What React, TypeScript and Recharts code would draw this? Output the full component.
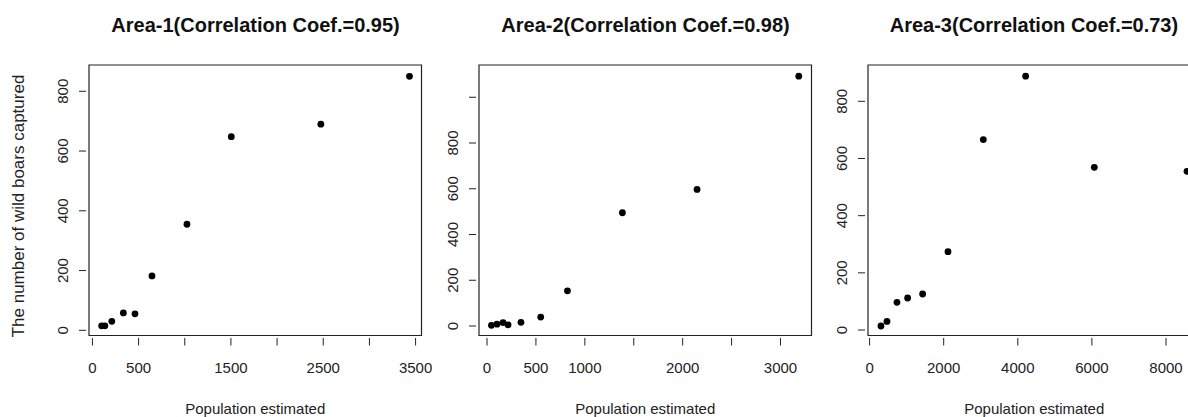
import { ReferenceArea, Scatter, ScatterChart, XAxis, YAxis } from "recharts";

// Area-1
const area1Population = [100, 135, 210, 335, 461, 645, 1024, 1504, 2474, 3434];
const area1Captured = [15, 15, 30, 58, 55, 182, 355, 648, 690, 850];
const area1XTicks = [0, 500, 1000, 1500, 2000, 2500, 3000, 3500];
const area1XLabels = [0, 500, 1500, 2500, 3500];
const area1YTicks = [0, 200, 400, 600, 800];
const area1YLabels = [0, 200, 400, 600, 800];

// Area-2
const area2Population = [45, 102, 164, 215, 347, 549, 822, 1384, 2147, 3187];
const area2Captured = [3, 8, 15, 5, 16, 39, 154, 495, 597, 1092];
const area2XTicks = [0, 500, 1000, 1500, 2000, 2500, 3000];
const area2XLabels = [0, 500, 1000, 2000, 3000];
const area2YTicks = [0, 200, 400, 600, 800, 1000];
const area2YLabels = [0, 200, 400, 600, 800];

// Area-3
const area3Population = [307, 469, 739, 1026, 1431, 2116, 3069, 4211, 6065, 8567];
const area3Captured = [14, 30, 97, 112, 126, 274, 666, 888, 569, 555];
const area3XTicks = [0, 2000, 4000, 6000, 8000];
const area3XLabels = [0, 2000, 4000, 6000, 8000];
const area3YTicks = [0, 200, 400, 600, 800];
const area3YLabels = [0, 200, 400, 600, 800];

const titles = [
  "Area-1(Correlation Coef.=0.95)",
  "Area-2(Correlation Coef.=0.98)",
  "Area-3(Correlation Coef.=0.73)",
];

const FONT = '"Liberation Sans", Arial, sans-serif';
const INK = "#222";
const BOX_TOP = 65;
const BOX_BOTTOM = 335.5;
const BOX_W = 332.5;
const AXIS_W = 90;
const CHART_H = 417;

type PanelDef = {
  title: string;
  boxLeft: number;
  population: number[];
  captured: number[];
  xDomain: [number, number];
  yDomain: [number, number];
  xTicks: number[];
  xLabels: number[];
  yTicks: number[];
  yLabels: number[];
};

const panels: PanelDef[] = [
  {
    title: titles[0],
    boxLeft: 89.3,
    population: area1Population,
    captured: area1Captured,
    xDomain: [-37, 3564],
    yDomain: [-17.4, 888],
    xTicks: area1XTicks,
    xLabels: area1XLabels,
    yTicks: area1YTicks,
    yLabels: area1YLabels,
  },
  {
    title: titles[1],
    boxLeft: 479.3,
    population: area2Population,
    captured: area2Captured,
    xDomain: [-82, 3317],
    yDomain: [-41.5, 1141],
    xTicks: area2XTicks,
    xLabels: area2XLabels,
    yTicks: area2YTicks,
    yLabels: area2YLabels,
  },
  {
    title: titles[2],
    boxLeft: 867.7,
    population: area3Population,
    captured: area3Captured,
    xDomain: [-43, 8931],
    yDomain: [-19.2, 927],
    xTicks: area3XTicks,
    xLabels: area3XLabels,
    yTicks: area3YTicks,
    yLabels: area3YLabels,
  },
];

function XTick(props: any) {
  const { x, y, payload, labels } = props;
  const show = labels.includes(payload.value);
  return (
    <g>
      <line x1={x} x2={x} y1={y + 2.5} y2={y + 10} stroke={INK} strokeWidth={1} />
      {show && (
        <text x={x} y={y + 37.5} textAnchor="middle" fontSize={15} fill={INK}>
          {payload.value}
        </text>
      )}
    </g>
  );
}

function YTick(props: any) {
  const { x, y, payload, labels } = props;
  const show = labels.includes(payload.value);
  const tx = x - 21;
  return (
    <g>
      <line x1={x - 10} x2={x - 3} y1={y} y2={y} stroke={INK} strokeWidth={1} />
      {show && (
        <text x={tx} y={y} textAnchor="middle" fontSize={15} fill={INK} transform={`rotate(-90, ${tx}, ${y})`}>
          {payload.value}
        </text>
      )}
    </g>
  );
}

function Dot(props: any) {
  const { cx, cy } = props;
  return <circle cx={cx} cy={cy} r={3.4} fill="#000" />;
}

function Panel({ p }: { p: PanelDef }) {
  const data = p.population.map((x, i) => ({ x, y: p.captured[i] }));
  return (
    <div style={{ position: "absolute", left: p.boxLeft - AXIS_W, top: 0 }}>
      <ScatterChart
        width={AXIS_W + BOX_W + 10}
        height={CHART_H}
        margin={{ top: BOX_TOP, right: 10, bottom: 0, left: 0 }}
      >
        <XAxis
          type="number"
          dataKey="x"
          domain={p.xDomain}
          ticks={p.xTicks}
          allowDataOverflow
          axisLine={false}
          tickLine={false}
          tickSize={0}
          tickMargin={0}
          height={CHART_H - BOX_BOTTOM}
          interval={0}
          tick={(t: any) => <XTick {...t} labels={p.xLabels} />}
          label={{ value: "Population estimated", position: "insideBottom", offset: 3, fontSize: 15, fill: INK }}
        />
        <YAxis
          type="number"
          dataKey="y"
          domain={p.yDomain}
          ticks={p.yTicks}
          allowDataOverflow
          axisLine={false}
          tickLine={false}
          tickSize={0}
          tickMargin={0}
          width={AXIS_W}
          interval={0}
          tick={(t: any) => <YTick {...t} labels={p.yLabels} />}
        />
        <ReferenceArea
          x1={p.xDomain[0]}
          x2={p.xDomain[1]}
          y1={p.yDomain[0]}
          y2={p.yDomain[1]}
          fill="none"
          stroke={INK}
          strokeWidth={1.2}
          fillOpacity={0}
        />
        <Scatter data={data} shape={<Dot />} isAnimationActive={false} />
      </ScatterChart>
    </div>
  );
}

export default function App() {
  return (
    <div
      style={{
        position: "absolute",
        left: 0,
        top: 0,
        width: 1188,
        height: 417,
        overflow: "hidden",
        background: "#fff",
        fontFamily: FONT,
      }}
    >
      {panels.map((p) => (
        <Panel key={p.title} p={p} />
      ))}
      <svg width={1188} height={417} style={{ position: "absolute", left: 0, top: 0, pointerEvents: "none" }}>
        {panels.map((p) => (
          <text
            key={p.title}
            x={p.boxLeft + BOX_W / 2}
            y={32}
            textAnchor="middle"
            fontSize={20}
            fontWeight="bold"
            fill="#111"
          >
            {p.title}
          </text>
        ))}
        <text
          x={24}
          y={206}
          textAnchor="middle"
          fontSize={17}
          fill={INK}
          transform="rotate(-90, 24, 206)"
        >
          The number of wild boars captured
        </text>
      </svg>
    </div>
  );
}
